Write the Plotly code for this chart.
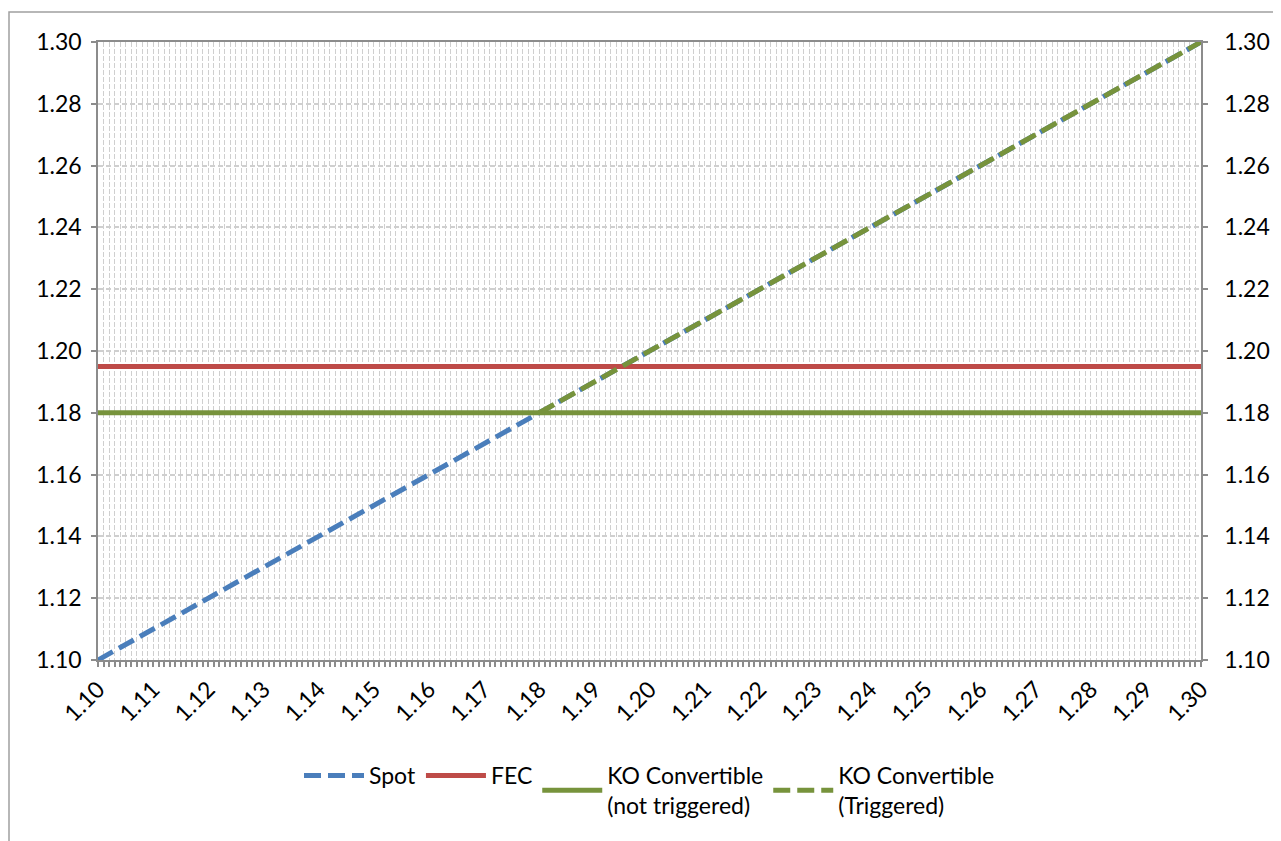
import plotly.graph_objects as go

# ---- data ----
x_vals = [1.10, 1.11, 1.12, 1.13, 1.14, 1.15, 1.16, 1.17, 1.18, 1.19, 1.20,
          1.21, 1.22, 1.23, 1.24, 1.25, 1.26, 1.27, 1.28, 1.29, 1.30]
spot = [1.10, 1.11, 1.12, 1.13, 1.14, 1.15, 1.16, 1.17, 1.18, 1.19, 1.20,
        1.21, 1.22, 1.23, 1.24, 1.25, 1.26, 1.27, 1.28, 1.29, 1.30]
fec = [1.195, 1.195, 1.195, 1.195, 1.195, 1.195, 1.195, 1.195, 1.195, 1.195, 1.195,
       1.195, 1.195, 1.195, 1.195, 1.195, 1.195, 1.195, 1.195, 1.195, 1.195]
ko_not_triggered = [1.18, 1.18, 1.18, 1.18, 1.18, 1.18, 1.18, 1.18, 1.18, 1.18, 1.18,
                    1.18, 1.18, 1.18, 1.18, 1.18, 1.18, 1.18, 1.18, 1.18, 1.18]
ko_triggered = [None, None, None, None, None, None, None, None, 1.18, 1.19, 1.20,
                1.21, 1.22, 1.23, 1.24, 1.25, 1.26, 1.27, 1.28, 1.29, 1.30]
series_names = ["Spot", "FEC", "KO Convertible<br>(not triggered)", "KO Convertible<br>(Triggered)"]

BLUE = "#4A7EBB"
RED = "#BE4B48"
GREEN = "#77933C"
AXIS = "#8C8C8C"
GRID = "#CFCFCF"
FONT = "Lato"
FS = 23

# page body adds an 8px offset; figure is sized so it fills the window
W, H = 1273, 833
OFF = 8

fig = go.Figure()
fig.add_trace(go.Scatter(x=x_vals, y=spot, name=series_names[0], mode="lines",
                         line=dict(color=BLUE, width=5, dash="17px,7px")))
fig.add_trace(go.Scatter(x=x_vals, y=fec, name=series_names[1], mode="lines",
                         line=dict(color=RED, width=5)))
fig.add_trace(go.Scatter(x=x_vals, y=ko_not_triggered, name=series_names[2], mode="lines",
                         line=dict(color=GREEN, width=5)))
fig.add_trace(go.Scatter(x=x_vals, y=ko_triggered, name=series_names[3], mode="lines",
                         line=dict(color=GREEN, width=5, dash="17px,7px")))
# helper trace so the right-hand axis is drawn
fig.add_trace(go.Scatter(x=x_vals, y=spot, yaxis="y2", mode="lines", showlegend=False,
                         hoverinfo="skip", line=dict(width=0, color="rgba(0,0,0,0)")))

L, R, T, B = 98 - OFF, 1281 - 1201, 42 - OFF, 841 - 660
fig.update_layout(
    width=W, height=H,
    margin=dict(l=L, r=R, t=T, b=B, autoexpand=False),
    paper_bgcolor="white", plot_bgcolor="white",
    font=dict(family=FONT, size=FS, color="#000000"),
    showlegend=True,
    legend=dict(orientation="h", x=0.5, xanchor="center", y=-0.152, yanchor="top",
                font=dict(family=FONT, size=FS, color="#000000"),
                traceorder="normal", itemwidth=60),
    xaxis=dict(range=[1.10, 1.30], tick0=1.10, dtick=0.01, tickformat=".2f",
               tickangle=-45, ticks="outside", ticklen=5, tickcolor=AXIS, tickwidth=1.5,
               showline=True, linecolor=AXIS, linewidth=1.5, mirror=True,
               showgrid=True, gridcolor=GRID, gridwidth=1.3, griddash="5px,2px",
               zeroline=False,
               minor=dict(tick0=1.10, dtick=0.001, ticks="outside", ticklen=5,
                          tickcolor=AXIS, tickwidth=1.5, showgrid=True, gridcolor=GRID,
                          gridwidth=1.3, griddash="5px,2px")),
    yaxis=dict(range=[1.10, 1.30], tick0=1.10, dtick=0.02, tickformat=".2f",
               ticks="outside", ticklen=5, tickcolor=AXIS, tickwidth=1.5,
               showline=True, linecolor=AXIS, linewidth=1.5, mirror=True,
               showgrid=True, gridcolor=GRID, gridwidth=1.5, griddash="5px,3px",
               zeroline=False, ticklabelstandoff=5),
    yaxis2=dict(range=[1.10, 1.30], tick0=1.10, dtick=0.02, tickformat=".2f",
                overlaying="y", side="right", ticks="outside", ticklen=5,
                tickcolor=AXIS, tickwidth=1.5, showline=True, linecolor=AXIS,
                linewidth=1.5, showgrid=False, zeroline=False, ticklabelstandoff=12),
)

# outer chart border (left and top visible, rest cropped)
pw = W - L - R
ph = H - T - B
bx = (9 - 98) / pw
by = 1 + (42 - 12) / ph
fig.add_shape(type="rect", xref="paper", yref="paper",
              x0=bx, x1=1.5, y0=-0.5, y1=by,
              line=dict(color="#A0A0A0", width=1.5), fillcolor="rgba(0,0,0,0)", layer="below")

fig.write_html("out.html")
